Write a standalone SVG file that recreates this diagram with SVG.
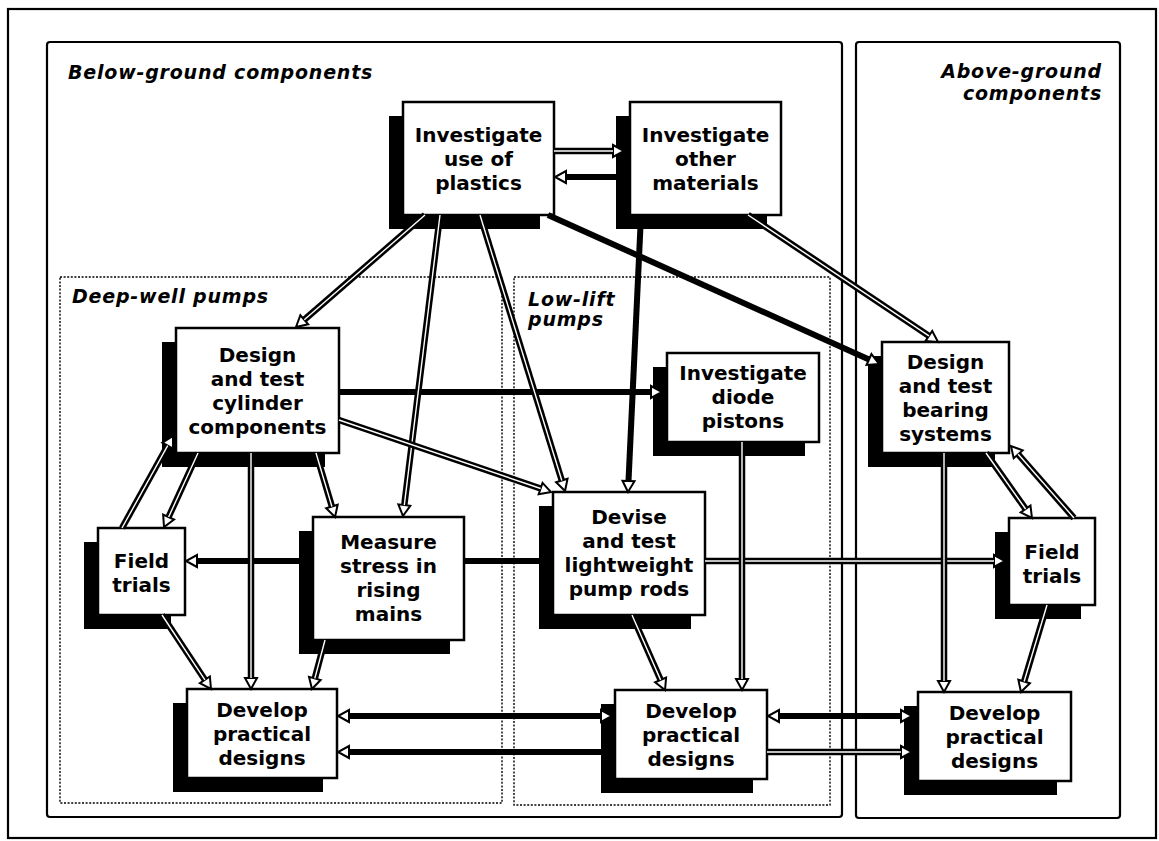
<svg xmlns="http://www.w3.org/2000/svg" width="1159" height="841" viewBox="0 0 1159 841">
<defs>
<style>
.frame{fill:none;stroke:#000;stroke-width:2.2}
.dot{fill:none;stroke:#000;stroke-width:1.4;stroke-dasharray:2 1.6}
.shd{fill:#000}
.box{fill:#fff;stroke:#000;stroke-width:2.5}
.t{font-family:"DejaVu Sans","Liberation Sans",sans-serif;font-weight:bold;font-size:20px;text-anchor:middle;fill:#000}
.lbl{font-family:"DejaVu Sans","Liberation Sans",sans-serif;font-weight:bold;font-style:italic;font-size:19px;letter-spacing:0.8px;fill:#000}
.ln{fill:none;stroke:#000;stroke-width:6}
.dl{stroke-width:6.5}
.ctr{fill:none;stroke:#fff;stroke-width:1.4}
.a{marker-end:url(#ah)}
.ab{marker-start:url(#ah);marker-end:url(#ah)}
</style>
<marker id="ah" markerUnits="userSpaceOnUse" viewBox="-2 -8 16 16" markerWidth="16" markerHeight="16" refX="0" refY="0" orient="auto-start-reverse">
<path d="M0,-6 L11,0 L0,6 Z" fill="#fff" stroke="#000" stroke-width="2"/>
</marker>
</defs>
<rect width="1159" height="841" fill="#fff"/>

<g id="frames">
<rect class="frame" x="8" y="9" width="1148" height="829"/>
<rect class="frame" x="47" y="42" width="795" height="775" rx="3"/>
<rect class="frame" x="856" y="42" width="264" height="776" rx="3"/>
<rect class="dot" x="60" y="277" width="442" height="526"/>
<rect class="dot" x="514" y="277" width="316" height="528"/>
</g>

<g id="labels">
<text class="lbl" x="68" y="79">Below-ground components</text>
<text class="lbl" x="1102" y="78" text-anchor="end">Above-ground</text>
<text class="lbl" x="1102" y="100" text-anchor="end">components</text>
<text class="lbl" x="72" y="303">Deep-well pumps</text>
<text class="lbl" x="528" y="306">Low-lift</text>
<text class="lbl" x="528" y="326">pumps</text>
</g>

<g id="node-plastics">
<rect class="shd" x="389" y="116" width="151" height="113"/>
<rect class="box" x="403" y="102" width="151" height="113"/>
<text class="t" x="478.5" y="142">Investigate</text>
<text class="t" x="478.5" y="166">use of</text>
<text class="t" x="478.5" y="190">plastics</text>
</g>

<g id="node-materials">
<rect class="shd" x="616" y="116" width="151" height="113"/>
<rect class="box" x="630" y="102" width="151" height="113"/>
<text class="t" x="705.5" y="142">Investigate</text>
<text class="t" x="705.5" y="166">other</text>
<text class="t" x="705.5" y="190">materials</text>
</g>

<g id="node-cylinder">
<rect class="shd" x="162" y="342" width="163" height="125"/>
<rect class="box" x="176" y="328" width="163" height="125"/>
<text class="t" x="257.5" y="361.5">Design</text>
<text class="t" x="257.5" y="385.5">and test</text>
<text class="t" x="257.5" y="409.5">cylinder</text>
<text class="t" x="257.5" y="433.5">components</text>
</g>

<g id="node-diode">
<rect class="shd" x="653" y="367" width="152" height="89"/>
<rect class="box" x="667" y="353" width="152" height="89"/>
<text class="t" x="743" y="380">Investigate</text>
<text class="t" x="743" y="404">diode</text>
<text class="t" x="743" y="428">pistons</text>
</g>

<g id="node-bearing">
<rect class="shd" x="868" y="356" width="127" height="111"/>
<rect class="box" x="882" y="342" width="127" height="111"/>
<text class="t" x="945.5" y="368.5">Design</text>
<text class="t" x="945.5" y="392.5">and test</text>
<text class="t" x="945.5" y="416.5">bearing</text>
<text class="t" x="945.5" y="440.5">systems</text>
</g>

<g id="node-field-left">
<rect class="shd" x="84" y="542" width="87" height="87"/>
<rect class="box" x="98" y="528" width="87" height="87"/>
<text class="t" x="141.5" y="568">Field</text>
<text class="t" x="141.5" y="592">trials</text>
</g>

<g id="node-stress">
<rect class="shd" x="299" y="531" width="151" height="123"/>
<rect class="box" x="313" y="517" width="151" height="123"/>
<text class="t" x="388.5" y="549">Measure</text>
<text class="t" x="388.5" y="573">stress in</text>
<text class="t" x="388.5" y="597">rising</text>
<text class="t" x="388.5" y="621">mains</text>
</g>

<g id="node-rods">
<rect class="shd" x="539" y="506" width="152" height="123"/>
<rect class="box" x="553" y="492" width="152" height="123"/>
<text class="t" x="629" y="524">Devise</text>
<text class="t" x="629" y="548">and test</text>
<text class="t" x="629" y="572">lightweight</text>
<text class="t" x="629" y="596">pump rods</text>
</g>

<g id="node-field-right">
<rect class="shd" x="995" y="532" width="86" height="87"/>
<rect class="box" x="1009" y="518" width="86" height="87"/>
<text class="t" x="1052" y="559">Field</text>
<text class="t" x="1052" y="583">trials</text>
</g>

<g id="node-develop-left">
<rect class="shd" x="173" y="703" width="150" height="89"/>
<rect class="box" x="187" y="689" width="150" height="89"/>
<text class="t" x="262" y="716.5">Develop</text>
<text class="t" x="262" y="740.5">practical</text>
<text class="t" x="262" y="764.5">designs</text>
</g>

<g id="node-develop-mid">
<rect class="shd" x="601" y="704" width="152" height="89"/>
<rect class="box" x="615" y="690" width="152" height="89"/>
<text class="t" x="691" y="717.5">Develop</text>
<text class="t" x="691" y="741.5">practical</text>
<text class="t" x="691" y="765.5">designs</text>
</g>

<g id="node-develop-right">
<rect class="shd" x="904" y="706" width="153" height="89"/>
<rect class="box" x="918" y="692" width="153" height="89"/>
<text class="t" x="994.5" y="719.5">Develop</text>
<text class="t" x="994.5" y="743.5">practical</text>
<text class="t" x="994.5" y="767.5">designs</text>
</g>

<g id="connectors">
<path class="ln a" d="M548,215 L869,359.5"/>
<path class="ln a" d="M616,177 L566,177"/>
<path class="ln a" d="M641,215 L628.5,481"/>
<path class="ln a" d="M339,392 L651,392"/>
<path class="ln a" d="M539,561 H464 M299,561 H197"/>
<path class="ln ab" d="M349,716 L601,716"/>
<path class="ln a" d="M601,752 L349,752"/>
<path class="ln ab" d="M779,716 L901,716"/>
<g><path class="ln dl a" d="M705,561 H994"/><path class="ctr" d="M705,561 H994"/></g>
<g><path class="ln dl a" d="M425,215 L304.3,319.8"/><path class="ctr" d="M425,215 L304.3,319.8"/></g>
<g><path class="ln dl a" d="M440,215 L404.3,505.1"/><path class="ctr" d="M440,215 L404.3,505.1"/></g>
<g><path class="ln dl a" d="M480,215 L561.8,480.5"/><path class="ctr" d="M480,215 L561.8,480.5"/></g>
<g><path class="ln dl a" d="M554,151 L613,151"/><path class="ctr" d="M554,151 L613,151"/></g>
<g><path class="ln dl a" d="M748,215 L928.9,335.9"/><path class="ctr" d="M748,215 L928.9,335.9"/></g>
<g><path class="ln dl a" d="M339,420 L540.6,488.5"/><path class="ctr" d="M339,420 L540.6,488.5"/></g>
<g><path class="ln dl a" d="M198,453 L168.6,517"/><path class="ctr" d="M198,453 L168.6,517"/></g>
<g><path class="ln dl a" d="M122,528 L167.7,445.6"/><path class="ctr" d="M122,528 L167.7,445.6"/></g>
<g><path class="ln dl a" d="M251,453 L251,678"/><path class="ctr" d="M251,453 L251,678"/></g>
<g><path class="ln dl a" d="M316,453 L331.9,506.5"/><path class="ctr" d="M316,453 L331.9,506.5"/></g>
<g><path class="ln dl a" d="M162,615 L204.9,679.8"/><path class="ctr" d="M162,615 L204.9,679.8"/></g>
<g><path class="ln dl a" d="M325,640 L314.8,678.4"/><path class="ctr" d="M325,640 L314.8,678.4"/></g>
<g><path class="ln dl a" d="M632,615 L660.6,679.9"/><path class="ctr" d="M632,615 L660.6,679.9"/></g>
<g><path class="ln dl a" d="M742,442 L742,679"/><path class="ctr" d="M742,442 L742,679"/></g>
<g><path class="ln dl a" d="M944,453 L944,681"/><path class="ctr" d="M944,453 L944,681"/></g>
<g><path class="ln dl a" d="M986,453 L1025.6,509"/><path class="ctr" d="M986,453 L1025.6,509"/></g>
<g><path class="ln dl a" d="M1074,518 L1018.2,454.3"/><path class="ctr" d="M1074,518 L1018.2,454.3"/></g>
<g><path class="ln dl a" d="M1047,605 L1024.1,681.5"/><path class="ctr" d="M1047,605 L1024.1,681.5"/></g>
<g><path class="ln dl a" d="M767,752 L901,752"/><path class="ctr" d="M767,752 L901,752"/></g>
</g>
</svg>
